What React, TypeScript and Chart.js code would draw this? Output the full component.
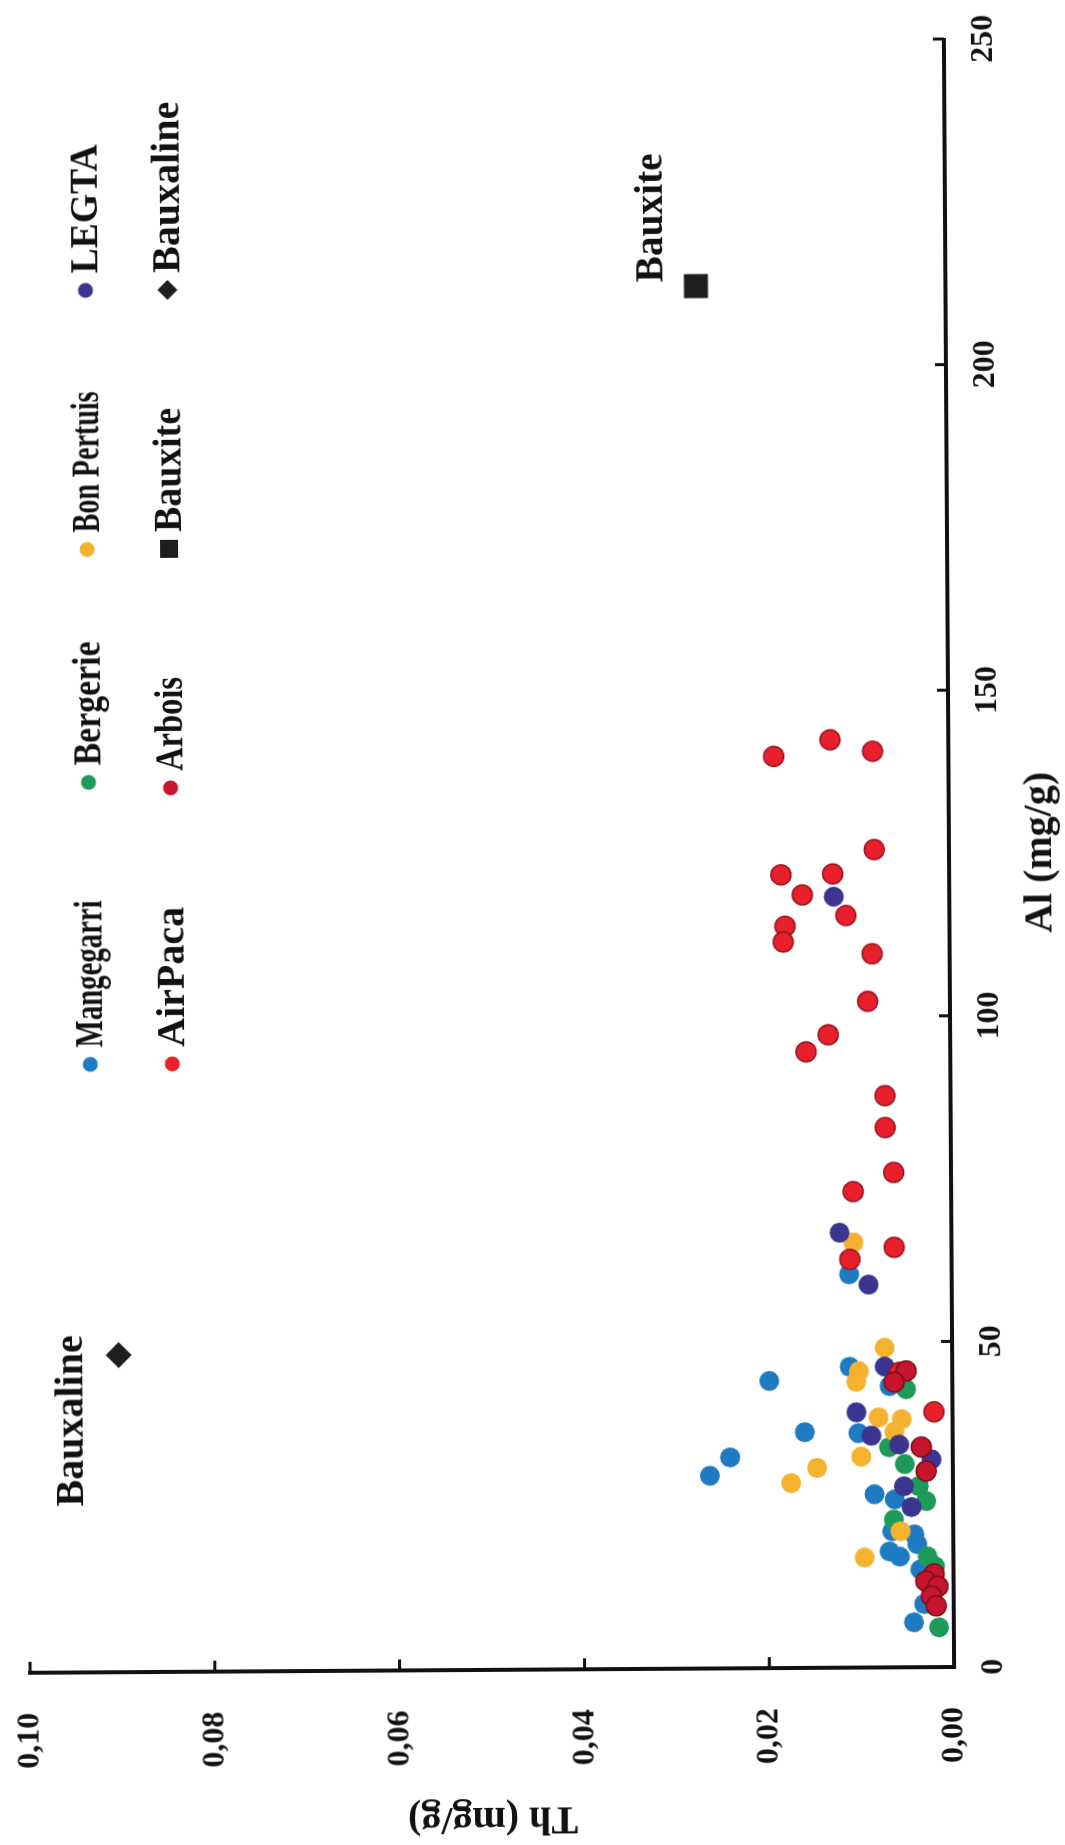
import { useEffect, useRef } from "react";
import { Chart, registerables } from "chart.js";

Chart.register(...registerables);

// ---------- data (Al in mg/g, Th in mg/g) ----------
const seriesNames = ["Mangegarri", "Bergerie", "Bon Pertuis", "LEGTA", "AirPaca", "Arbois", "Bauxite", "Bauxaline"];
const seriesColors = ["#1f7bc1", "#1e9a5b", "#f5b22e", "#3b3590", "#e8202c", "#c8152e", "#1e1e1e", "#1e1e1e"];

const mangegarriAl = [60.4, 46.2, 44.1, 43.2, 36.2, 36.0, 32.4, 29.6, 26.6, 25.8, 20.9, 20.4, 18.9, 17.8, 17.0, 15.0, 9.7, 6.9];
const mangegarriTh = [0.0111, 0.0111, 0.0198, 0.0068, 0.016, 0.0102, 0.0241, 0.0263, 0.0085, 0.0063, 0.0066, 0.0042, 0.0039, 0.0069, 0.0058, 0.0036, 0.0032, 0.0043];

const bergerieAl = [42.7, 33.8, 31.2, 27.8, 25.5, 22.7, 17.0, 15.5, 6.1];
const bergerieTh = [0.005, 0.0069, 0.0052, 0.0037, 0.0029, 0.0064, 0.0028, 0.002, 0.0016];

const bonPertuisAl = [65.3, 49.1, 45.5, 43.9, 38.4, 38.1, 36.2, 32.4, 30.7, 28.4, 20.9, 16.9];
const bonPertuisTh = [0.0106, 0.0073, 0.0101, 0.0104, 0.008, 0.0055, 0.0063, 0.0099, 0.0147, 0.0175, 0.0057, 0.0096];

const legtaAl = [118.4, 66.8, 58.8, 46.2, 39.2, 35.6, 34.2, 31.9, 27.8, 24.6];
const legtaTh = [0.0125, 0.0121, 0.009, 0.0073, 0.0104, 0.0088, 0.0058, 0.0023, 0.0053, 0.0045];

const airPacaAl = [142.5, 140.7, 140.0, 125.6, 121.9, 121.8, 118.7, 115.5, 113.9, 111.5, 109.6, 102.3, 97.2, 94.6, 87.8, 82.9, 76.0, 73.1, 64.5, 62.7, 45.3, 39.2];
const airPacaTh = [0.0128, 0.0082, 0.0189, 0.0081, 0.0126, 0.0182, 0.0159, 0.0112, 0.0178, 0.018, 0.0084, 0.0089, 0.0132, 0.0156, 0.0071, 0.0071, 0.0062, 0.0106, 0.0062, 0.011, 0.0057, 0.002];

const arboisAl = [45.5, 43.8, 33.8, 30.1, 14.3, 13.2, 12.4, 10.9, 9.4];
const arboisTh = [0.005, 0.0063, 0.0034, 0.0029, 0.0021, 0.003, 0.0017, 0.0024, 0.0019];

const bauxiteAl = [212.3];
const bauxiteTh = [0.027];

const bauxalineAl = [48.7];
const bauxalineTh = [0.0902];

const alTickLabels = ["0", "50", "100", "150", "200", "250"];
const thTickLabels = ["0,00", "0,02", "0,04", "0,06", "0,08", "0,10"];

// ---------- layout ----------
const W = 1845; // canvas width (becomes page height after rotation)
const H = 1065; // canvas height (becomes page width)
const FONT = "'Liberation Serif', 'Times New Roman', serif";
const INK = "#111111";

const pts = (xs: number[], ys: number[]) => xs.map((x, i) => ({ x, y: ys[i] }));

const inwardTicks = {
  id: "inwardTicks",
  beforeDatasetsDraw(chart: any) {
    const { ctx, chartArea, scales } = chart;
    const x = scales.x;
    const y = scales.y;
    ctx.save();
    ctx.strokeStyle = INK;
    ctx.lineWidth = 3;
    ctx.beginPath();
    x.ticks.forEach((t: any) => {
      const px = x.getPixelForValue(t.value);
      ctx.moveTo(px, chartArea.bottom);
      ctx.lineTo(px, chartArea.bottom - 11);
    });
    y.ticks.forEach((t: any) => {
      const py = y.getPixelForValue(t.value);
      ctx.moveTo(chartArea.left, py);
      ctx.lineTo(chartArea.left + 11, py);
    });
    ctx.stroke();
    ctx.restore();
  },
};

const legendRows = [
  [0, 1, 2, 3],
  [4, 5, 6, 7],
];
const legendCols = [[786, 1068, 1301, 1560], [786, 1062, 1301, 1560]];
const legendRowY = [89, 171];
const legendTextWidths = [147, 124, 141, 129, 141, 94, 124, 174];
const markerKinds = ["circle", "circle", "circle", "circle", "circle", "circle", "square", "diamond"];
const TEXT_FONT = `bold 40px ${FONT}`;

const customLegend = {
  id: "customLegend",
  afterDraw(chart: any) {
    const { ctx } = chart;
    ctx.save();
    ctx.font = TEXT_FONT;
    ctx.textBaseline = "middle";
    ctx.textAlign = "left";
    legendRows.forEach((row, r) => {
      row.forEach((si, c) => {
        const mx = legendCols[r][c];
        const my = legendRowY[r];
        ctx.fillStyle = seriesColors[si];
        ctx.beginPath();
        const k = markerKinds[si];
        if (k === "circle") {
          ctx.arc(mx, my, 7.5, 0, Math.PI * 2);
        } else if (k === "square") {
          ctx.rect(mx - 9, my - 9, 18, 18);
        } else {
          ctx.moveTo(mx, my - 10);
          ctx.lineTo(mx + 10, my);
          ctx.lineTo(mx, my + 10);
          ctx.lineTo(mx - 10, my);
          ctx.closePath();
        }
        ctx.fill();
        ctx.fillStyle = INK;
        ctx.fillText(seriesNames[si], mx + 17, my + 2, legendTextWidths[si]);
      });
    });
    ctx.restore();
  },
};

const pointLabels = {
  id: "pointLabels",
  afterDatasetsDraw(chart: any) {
    const { ctx } = chart;
    ctx.save();
    ctx.font = TEXT_FONT;
    ctx.fillStyle = INK;
    ctx.textBaseline = "middle";
    const bx = chart.getDatasetMeta(6).data[0];
    const bl = chart.getDatasetMeta(7).data[0];
    if (bx) {
      ctx.textAlign = "left";
      ctx.fillText(seriesNames[6], bx.x + 4, bx.y - 44, 129);
    }
    if (bl) {
      ctx.textAlign = "right";
      ctx.fillText(seriesNames[7], bl.x + 20, bl.y - 47, 174);
    }
    ctx.restore();
  },
};

export default function App() {
  const ref = useRef<HTMLCanvasElement | null>(null);

  useEffect(() => {
    if (!ref.current) return;
    const circle = (i: number, data: any[], order: number, border?: string) => ({
      label: seriesNames[i],
      data,
      order,
      backgroundColor: seriesColors[i],
      borderColor: border || seriesColors[i],
      borderWidth: border ? 1.5 : 0,
      pointRadius: 10,
      pointStyle: "circle",
    });
    const chart = new Chart(ref.current, {
      type: "scatter",
      data: {
        datasets: [
          circle(0, pts(mangegarriAl, mangegarriTh), 7),
          circle(1, pts(bergerieAl, bergerieTh), 6),
          circle(2, pts(bonPertuisAl, bonPertuisTh), 5),
          circle(3, pts(legtaAl, legtaTh), 4),
          circle(4, pts(airPacaAl, airPacaTh), 3, "#9a1420"),
          circle(5, pts(arboisAl, arboisTh), 2, "#7a0e1a"),
          {
            label: seriesNames[6],
            data: pts(bauxiteAl, bauxiteTh),
            order: 1,
            backgroundColor: seriesColors[6],
            borderColor: seriesColors[6],
            borderWidth: 0,
            pointStyle: "rect",
            pointRadius: 17,
          },
          {
            label: seriesNames[7],
            data: pts(bauxalineAl, bauxalineTh),
            order: 1,
            backgroundColor: seriesColors[7],
            borderColor: seriesColors[7],
            borderWidth: 0,
            pointStyle: "rectRot",
            pointRadius: 13,
          },
        ] as any,
      },
      options: {
        animation: false,
        responsive: false,
        devicePixelRatio: 1,
        layout: { padding: { left: 0, right: 39, top: 25, bottom: 0 } },
        plugins: {
          legend: { display: false },
          tooltip: { enabled: false },
        },
        scales: {
          x: {
            type: "linear",
            min: 0,
            max: 250,
            grid: { display: false, drawTicks: true, tickLength: 21 },
            border: { display: true, color: INK, width: 4 },
            ticks: {
              stepSize: 50,
              padding: 0,
              color: INK,
              maxRotation: 0,
              autoSkip: false,
              font: { family: FONT, size: 32, weight: "bold" },
              callback: (_v: any, i: number) => alTickLabels[i],
            },
            title: {
              display: true,
              text: "Al (mg/g)",
              color: INK,
              font: { family: FONT, size: 40, weight: "bold", lineHeight: 1.2 },
              padding: { top: 0, bottom: 0 },
            },
            afterFit: (s: any) => {
              s.height = 116;
            },
          },
          y: {
            type: "linear",
            min: 0,
            max: 0.1,
            grid: { display: false, drawTicks: true, tickLength: 40 },
            border: { display: true, color: INK, width: 4 },
            ticks: {
              stepSize: 0.02,
              padding: 0,
              color: INK,
              autoSkip: false,
              font: { family: FONT, size: 32, weight: "bold" },
              callback: (_v: any, i: number) => thTickLabels[i],
            },
            title: {
              display: true,
              text: "Th (mg/g)",
              color: INK,
              font: { family: FONT, size: 40, weight: "bold", lineHeight: 1.2 },
              padding: { top: 6, bottom: 0 },
            },
            afterFit: (s: any) => {
              s.width = 178;
            },
          },
        },
      } as any,
      plugins: [inwardTicks, pointLabels, customLegend],
    });
    return () => chart.destroy();
  }, []);

  return (
    <div
      style={{
        position: "fixed",
        left: 0,
        top: 0,
        width: H,
        height: W,
        overflow: "hidden",
        background: "#ffffff",
      }}
    >
      <canvas
        ref={ref}
        width={W}
        height={H}
        style={{
          position: "absolute",
          left: 0,
          top: 0,
          width: W,
          height: H,
          transformOrigin: "0 0",
          transform: `translate(949px, 853px) rotate(-0.36deg) translate(-949px, -853px) translateY(${W}px) rotate(-90deg)`,
        }}
      />
    </div>
  );
}
